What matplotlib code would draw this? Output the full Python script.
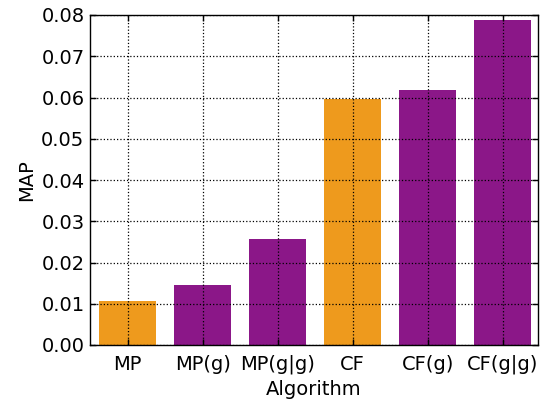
import matplotlib
matplotlib.use('Agg')
import matplotlib.pyplot as plt
import numpy as np

algorithms = ['MP', 'MP(g)', 'MP(g|g)', 'CF', 'CF(g)', 'CF(g|g)']
map_scores = [0.0106, 0.0145, 0.0257, 0.0596, 0.0618, 0.0788]
bar_colors = ['#EE9A1D', '#8B1788', '#8B1788', '#EE9A1D', '#8B1788', '#8B1788']

plt.rcParams['font.family'] = 'DejaVu Sans'
plt.rcParams['font.size'] = 14

fig = plt.figure(figsize=(5.4, 4.01), dpi=100)
ax = fig.add_axes([90/540., 1-345/401., 448/540., 330/401.])

x = np.arange(len(algorithms))
ax.bar(x, map_scores, width=0.76, color=bar_colors, linewidth=0, zorder=1)

ax.set_xlim(-0.5, 5.47)
ax.set_ylim(0, 0.08)
ax.set_xticks(x)
ax.set_xticklabels(algorithms)
ax.set_yticks(np.arange(0, 0.081, 0.01))
ax.set_yticklabels(['%.2f' % v for v in np.arange(0, 0.081, 0.01)])
ax.set_xlabel('Algorithm', fontsize=14)
ax.set_ylabel('MAP', fontsize=14)

ax.grid(True, linestyle=':', color='black', linewidth=0.9)
ax.set_axisbelow(False)
ax.tick_params(direction='in', top=True, right=True, length=4, width=1, labelsize=14)
ax.tick_params(axis='y', pad=4)
ax.tick_params(axis='x', pad=7)
for s in ax.spines.values():
    s.set_linewidth(1.0)

fig.savefig('out.png', dpi=100, facecolor='white')
